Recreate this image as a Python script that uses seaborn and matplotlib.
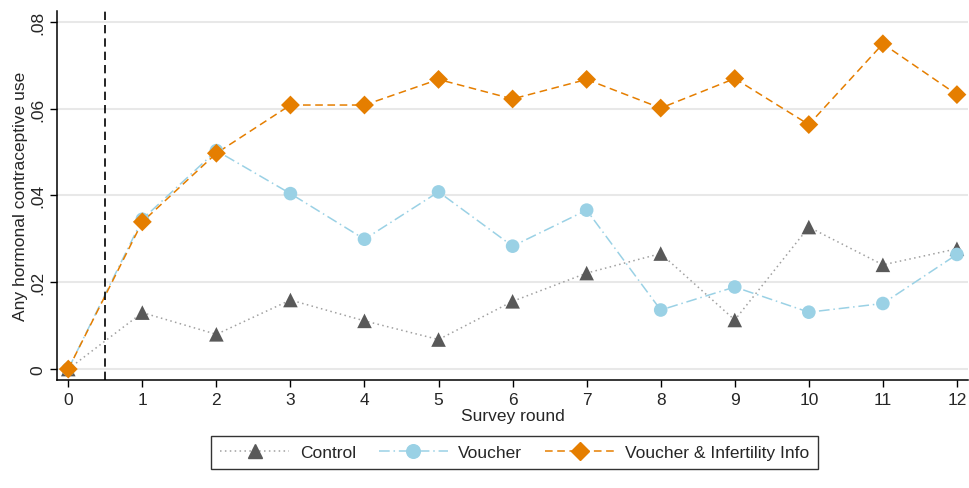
import matplotlib
matplotlib.use("Agg")
import matplotlib.pyplot as plt
from matplotlib.lines import Line2D
import seaborn as sns
import pandas as pd

# Survey rounds and share using any hormonal contraceptive, by study arm
rounds = list(range(13))
control = [0.0, 0.0130, 0.0080, 0.0159, 0.0111, 0.0068, 0.0156,
           0.0221, 0.0266, 0.0113, 0.0327, 0.0240, 0.0277]
voucher = [0.0, 0.0345, 0.0503, 0.0404, 0.0299, 0.0408, 0.0283,
           0.0366, 0.0136, 0.0189, 0.0131, 0.0151, 0.0264]
voucher_info = [0.0, 0.0339, 0.0497, 0.0608, 0.0608, 0.0667, 0.0622,
                0.0667, 0.0601, 0.0669, 0.0563, 0.0749, 0.0632]
arms = ["Control", "Voucher", "Voucher & Infertility Info"]
y_ticks = [0, 0.02, 0.04, 0.06, 0.08]
y_tick_labels = ["0", ".02", ".04", ".06", ".08"]

df = pd.DataFrame({
    "round": rounds * 3,
    "value": control + voucher + voucher_info,
    "arm": [arms[0]] * 13 + [arms[1]] * 13 + [arms[2]] * 13,
})

sns.set_theme(style="white")
plt.rcParams["font.family"] = ["Liberation Sans", "DejaVu Sans"]

fig = plt.figure(figsize=(9.69, 4.89), dpi=100)
ax = fig.add_axes([0.059, 0.221, 0.94, 0.754])

palette = {arms[0]: "#595959", arms[1]: "#9ad1e5", arms[2]: "#e57e00"}
line_colors = {arms[0]: "#a0a0a0", arms[1]: "#9ad1e5", arms[2]: "#e57e00"}
markers = {arms[0]: "^", arms[1]: "o", arms[2]: "D"}
marker_sizes = {arms[0]: 10.5, arms[1]: 9.8, arms[2]: 9.6}
dashes = {arms[0]: (1, 2.2), arms[1]: (7, 2.5, 1, 2.5), arms[2]: (5, 3)}

# Connecting lines, then markers on top
for arm in arms:
    sub = df[df["arm"] == arm]
    sns.lineplot(data=sub, x="round", y="value", ax=ax, color=line_colors[arm],
                 lw=1.1, legend=False, zorder=2)
    ax.lines[-1].set_dashes(dashes[arm])
    sns.scatterplot(data=sub, x="round", y="value", ax=ax, color=palette[arm],
                    marker=markers[arm], s=marker_sizes[arm] ** 2,
                    edgecolor="none", legend=False, zorder=3)

# Start of the intervention
ax.axvline(0.5, color="black", lw=1.2, dashes=(5, 3), zorder=4)

ax.set_xlim(-0.15, 12.15)
ax.set_ylim(-0.0025, 0.0824)
ax.set_xticks(rounds)
ax.set_yticks(y_ticks)
ax.set_yticklabels(y_tick_labels, rotation=90, va="center")
ax.tick_params(axis="both", which="major", labelsize=12.5, length=5,
               width=1, color="black", direction="out", left=True, bottom=True)
ax.grid(axis="y", color="#e8e8e8", lw=1.5)
ax.grid(axis="x", visible=False)
ax.set_axisbelow(True)
for side in ["top", "right"]:
    ax.spines[side].set_visible(False)
for side in ["left", "bottom"]:
    ax.spines[side].set_color("black")
    ax.spines[side].set_linewidth(1.1)

ax.set_xlabel("Survey round", fontsize=12.5, labelpad=1)
ax.set_ylabel("Any hormonal contraceptive use", fontsize=12.5, labelpad=2)

# Legend entries: line with a marker in the middle
handles = [Line2D([0], [0], color=line_colors[a], lw=1.1, dashes=dashes[a],
                  marker=markers[a], markersize=marker_sizes[a],
                  markerfacecolor=palette[a], markeredgecolor=palette[a])
           for a in arms]
leg = fig.legend(handles, arms, loc="center", bbox_to_anchor=(0.531, 0.0726),
                 ncol=3, frameon=True, fancybox=False, fontsize=12.5,
                 handlelength=4.0, columnspacing=1.3, handletextpad=0.6,
                 borderpad=0.5)
leg.get_frame().set_edgecolor("black")
leg.get_frame().set_linewidth(1.0)

fig.savefig("out.png", dpi=100)
